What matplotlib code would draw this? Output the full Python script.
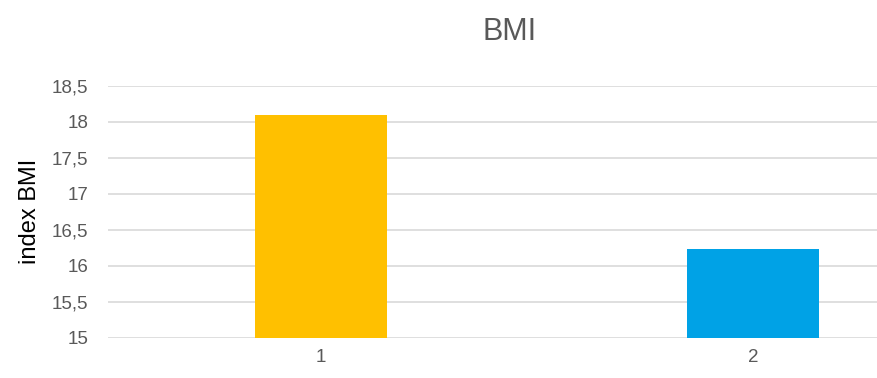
import matplotlib.pyplot as plt
from matplotlib.ticker import FuncFormatter

categories = ['1', '2']
bmi = [18.1, 16.24]
colors = ['#FFC000', '#00A2E6']

plt.rcParams['font.family'] = ['Liberation Sans', 'DejaVu Sans']

fig = plt.figure(figsize=(8.78, 3.78), dpi=100)
ax = fig.add_axes([0.123, 0.106, 0.877, 0.667])

x = range(len(categories))
ax.bar(x, bmi, width=0.305, color=colors, zorder=2)

ax.set_ylim(15, 18.5)
ax.set_xlim(-0.493, 1.289)
ax.set_yticks([15 + 0.5 * i for i in range(8)])
ax.yaxis.set_major_formatter(FuncFormatter(lambda v, p: f'{v:g}'.replace('.', ',')))
ax.set_xticks(list(x))
ax.set_xticklabels(categories)

ax.grid(axis='y', color='#D9D9D9', linewidth=1.2, zorder=0)
for s in ax.spines.values():
    s.set_visible(False)
ax.tick_params(length=0, labelsize=13.5, colors='#595959', pad=8)
ax.tick_params(axis='y', pad=14)

ax.set_ylabel('index BMI', fontsize=17, color='black', labelpad=8)
fig.suptitle('BMI', x=0.58, y=0.955, fontsize=22, color='#595959')

fig.savefig('out.png', dpi=100)
